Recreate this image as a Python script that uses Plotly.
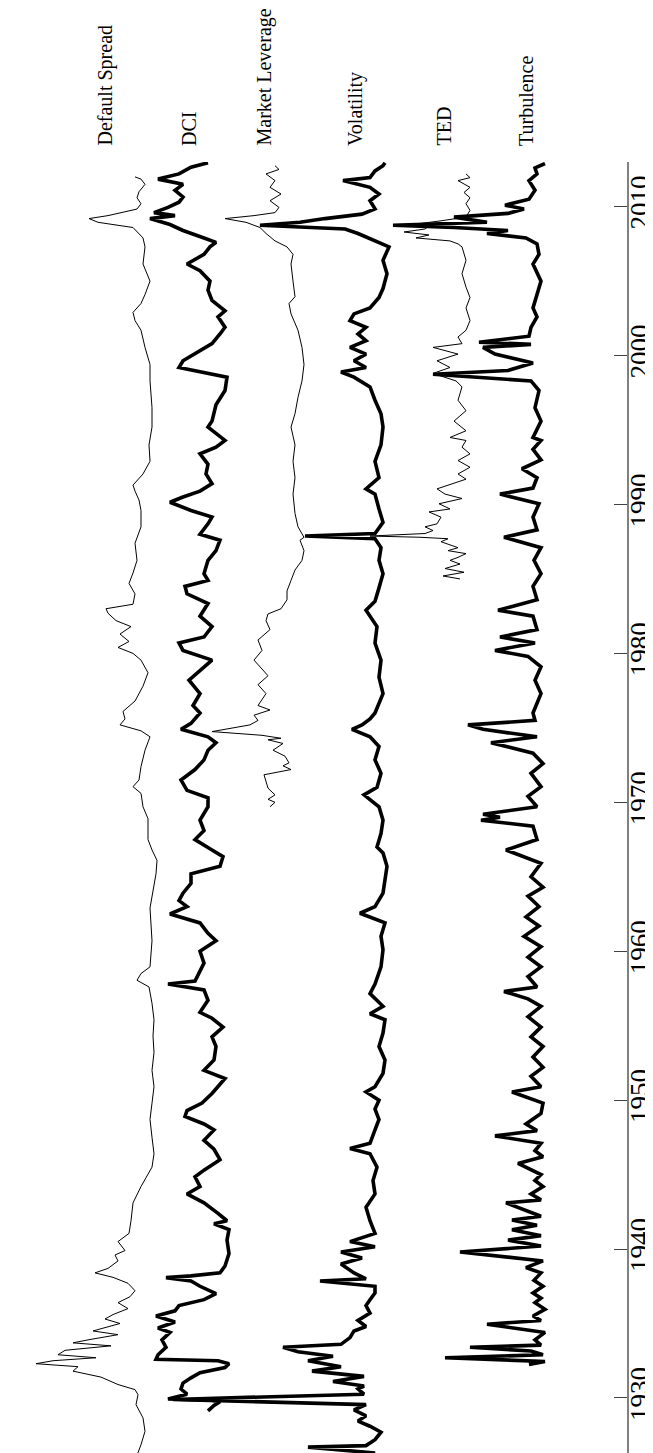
import plotly.graph_objects as go

# ---------------- data (deflection units, larger = further left) -------------
ds_years = [1925.97, 1926.86, 1927.76, 1928.66, 1929.55, 1930.22, 1930.56, 1930.9, 1931.4, 1931.8, 1932.1,
            1932.3, 1932.5, 1932.7, 1932.9, 1933.2, 1933.5, 1933.7, 1933.9, 1934.25, 1934.5, 1934.8, 1935.0,
            1935.3, 1935.6, 1936.0, 1936.4, 1936.8, 1937.2, 1937.7, 1938.1, 1938.4, 1938.7, 1939.2, 1939.6,
            1939.9, 1940.5, 1941.05, 1941.9, 1943.1, 1944.2, 1945.5, 1946.4, 1947.5, 1948.7, 1949.8, 1950.9,
            1952.0, 1953.2, 1954.3, 1955.4, 1956.5, 1957.6, 1958.05, 1958.5, 1958.95, 1960.7, 1962.9, 1964.0,
            1965.2, 1966.1, 1966.8, 1967.5, 1968.9, 1969.7, 1970.6, 1971.05, 1971.5, 1972.4, 1973.5, 1974.4,
            1974.8, 1975.2, 1975.6, 1976.1, 1976.8, 1977.8, 1978.7, 1979.55, 1980.0, 1980.4, 1980.8, 1981.3,
            1981.8, 1982.2, 1982.7, 1983.0, 1983.3, 1984.0, 1984.7, 1985.4, 1986.25, 1987.4, 1988.5, 1989.6,
            1990.3, 1990.9, 1991.3, 1992.05, 1992.9, 1994.0, 1995.2, 1996.5, 1998.3, 1999.4, 2000.55, 2001.7,
            2002.35, 2002.9, 2003.5, 2004.1, 2005.0, 2006.15, 2007.3, 2007.9, 2008.6, 2008.95, 2009.2, 2009.4,
            2009.6, 2009.84, 2010.2, 2010.6, 2011.0, 2011.5, 2011.85, 2012.0]
ds_values = [22, 17, 13, 15, 22, 20, 23, 40, 57, 85, 80,
             122, 105, 62, 100, 93, 47, 85, 70, 40, 65, 50, 38,
             53, 45, 30, 40, 28, 23, 30, 45, 63, 50, 40, 43,
             33, 40, 29, 27, 25, 17, 6, 4, 6, 8, 6, 4,
             6, 4, 5, 4, 6, 9, 21, 17, 8, 6, 8, 5,
             2, 1, 6, 10, 10, 15, 17, 25, 19, 17, 13, 8,
             17, 38, 33, 35, 23, 15, 10, 17, 25, 40, 29, 38,
             27, 42, 50, 52, 25, 23, 29, 25, 21, 23, 17, 17,
             19, 23, 25, 15, 8, 9, 6, 6, 8, 8, 13, 17,
             23, 25, 17, 13, 8, 15, 13, 15, 25, 60, 69, 50,
             38, 21, 17, 21, 19, 13, 17, 23]

dci_years = [1929.13, 1929.5, 1929.75, 1929.85, 1929.93, 1930.25, 1930.6, 1931.0, 1931.35, 1931.7, 1932.04,
             1932.3, 1932.5, 1932.6, 1932.9, 1933.4, 1933.9, 1934.4, 1934.7, 1935.1, 1935.5, 1935.85, 1936.2,
             1936.6, 1937.0, 1937.25, 1937.5, 1937.85, 1938.08, 1938.2, 1938.4, 1938.86, 1939.7, 1940.6, 1941.3,
             1941.7, 1941.9, 1942.4, 1943.1, 1943.7, 1944.2, 1944.85, 1945.3, 1946.0, 1946.7, 1947.3, 1948.0,
             1948.4, 1948.9, 1949.3, 1949.8, 1950.45, 1950.9, 1951.45, 1952.0, 1952.7, 1953.6, 1954.25, 1954.9,
             1955.5, 1955.9, 1956.7, 1957.4, 1957.8, 1958.0, 1959.2, 1960.0, 1960.7, 1961.2, 1961.9, 1962.5,
             1963.0, 1963.4, 1963.9, 1964.55, 1965.2, 1965.7, 1966.35, 1966.8, 1967.5, 1968.1, 1968.8, 1969.7,
             1970.3, 1970.8, 1971.5, 1972.2, 1972.85, 1973.5, 1974.0, 1974.4, 1974.9, 1975.3, 1976.0, 1976.5,
             1977.3, 1978.2, 1979.1, 1979.55, 1980.2, 1980.7, 1981.1, 1981.8, 1982.5, 1983.35, 1984.0, 1984.5,
             1984.9, 1985.35, 1986.25, 1986.9, 1987.6, 1988.0, 1988.7, 1989.15, 1989.6, 1990.15, 1990.5, 1990.9,
             1991.4, 1992.05, 1992.7, 1993.4, 1993.85, 1994.3, 1995.2, 1995.6, 1996.7, 1997.65, 1998.55, 1999.0,
             1999.2, 1999.65, 2000.1, 2000.8, 2001.45, 2001.9, 2002.6, 2003.0, 2003.7, 2004.4, 2005.0, 2005.7,
             2006.15, 2006.8, 2007.3, 2007.6, 2007.9, 2008.4, 2008.8, 2009.2, 2009.4, 2009.6, 2009.95, 2010.3,
             2010.65, 2011.1, 2011.5, 2011.85, 2012.2, 2012.65, 2012.95]
dci_values = [22, 16, 10, 18, 62, 43, 49, 47, 39, 30, 5,
              1, 12, 74, 72, 64, 68, 60, 72, 55, 74, 55, 51,
              26, 14, 22, 30, 39, 64, 39, 10, 5, 1, 3, 1,
              16, 3, 12, 26, 43, 30, 35, 26, 10, 16, 26, 16,
              26, 45, 43, 28, 18, 12, 5, 26, 16, 14, 18, 7,
              18, 30, 22, 26, 62, 35, 26, 30, 14, 22, 30, 60,
              43, 51, 47, 39, 39, 10, 7, 18, 35, 26, 30, 22,
              22, 43, 49, 35, 26, 22, 14, 22, 49, 39, 30, 37,
              30, 41, 26, 18, 47, 51, 26, 18, 30, 22, 43, 45,
              22, 26, 22, 14, 10, 30, 22, 18, 39, 60, 47, 30,
              18, 24, 22, 30, 14, 5, 22, 18, 14, 5, 3, 35,
              51, 47, 35, 18, 10, 5, 12, 5, 18, 22, 20, 30,
              43, 26, 20, 14, 26, 47, 60, 80, 55, 76, 62, 51,
              47, 55, 47, 72, 51, 39, 22]

ml_years = [1969.7, 1970.0, 1970.2, 1970.5, 1970.95, 1971.4, 1971.85, 1972.2, 1972.45, 1972.65, 1973.1,
            1973.5, 1973.95, 1974.2, 1974.3, 1974.5, 1974.75, 1974.95, 1975.2, 1975.5, 1975.85, 1976.2,
            1976.5, 1977.3, 1977.9, 1978.5, 1979.55, 1980.2, 1980.9, 1981.6, 1982.2, 1982.65, 1983.0,
            1983.6, 1984.2, 1984.9, 1985.6, 1986.25, 1986.9, 1987.6, 1987.8, 1988.5, 1989.4, 1990.7,
            1991.8, 1992.9, 1994.0, 1995.2, 1996.1, 1997.2, 1998.3, 1999.4, 2000.55, 2001.7, 2002.8,
            2003.5, 2003.95, 2005.0, 2006.15, 2006.8, 2007.3, 2007.7, 2008.2, 2008.6, 2008.95, 2009.2,
            2009.4, 2009.6, 2009.95, 2010.4, 2010.85, 2011.3, 2011.75, 2012.2, 2012.5, 2012.75]
ml_values = [35, 30, 37, 30, 37, 39, 41, 14, 22, 16, 20,
             32, 22, 37, 24, 43, 93, 76, 55, 47, 51, 35,
             47, 39, 47, 37, 51, 43, 47, 35, 39, 37, 24,
             18, 18, 14, 10, 3, 1, 5, 1, 7, 10, 12,
             10, 12, 10, 14, 10, 7, 3, 1, 3, 7, 14,
             16, 10, 12, 14, 12, 18, 30, 39, 45, 59, 80,
             51, 30, 26, 35, 24, 35, 30, 39, 26, 30]

vol_years = [1926.1, 1926.3, 1926.7, 1926.8, 1927.2, 1927.7, 1928.1, 1928.45, 1928.8, 1929.2, 1929.55,
             1929.9, 1930.25, 1930.6, 1930.8, 1931.1, 1931.45, 1931.8, 1932.1, 1932.5, 1932.8, 1933.1,
             1933.4, 1933.6, 1934.05, 1934.5, 1934.8, 1935.2, 1935.7, 1936.2, 1936.6, 1937.05, 1937.5,
             1937.85, 1938.0, 1938.4, 1939.0, 1939.4, 1939.8, 1940.15, 1940.5, 1941.05, 1941.9, 1942.8,
             1943.7, 1944.6, 1945.5, 1946.4, 1946.75, 1947.1, 1948.0, 1948.7, 1949.4, 1950.0, 1950.55,
             1950.9, 1951.8, 1952.7, 1953.6, 1954.5, 1955.4, 1955.8, 1956.3, 1957.15, 1957.8, 1958.95,
             1960.1, 1961.0, 1961.9, 1962.55, 1963.0, 1963.9, 1964.8, 1965.7, 1966.6, 1967.0, 1967.9,
             1968.8, 1969.7, 1970.5, 1971.0, 1971.95, 1972.85, 1973.75, 1974.4, 1974.9, 1975.2, 1975.6,
             1976.0, 1977.3, 1978.4, 1979.55, 1980.7, 1981.8, 1982.9, 1983.5, 1984.4, 1985.35, 1986.25,
             1987.1, 1987.7, 1987.88, 1988.05, 1988.8, 1989.7, 1990.7, 1991.05, 1991.8, 1992.9, 1994.0,
             1995.2, 1996.1, 1997.0, 1997.9, 1998.55, 1998.9, 1999.2, 1999.65, 2000.1, 2000.55, 2001.0,
             2001.45, 2001.9, 2002.35, 2002.8, 2003.2, 2003.9, 2004.5, 2005.5, 2006.4, 2007.3, 2007.7,
             2008.2, 2008.5, 2008.75, 2008.95, 2009.2, 2009.5, 2009.85, 2010.4, 2010.85, 2011.3, 2011.75,
             2011.95, 2012.4, 2012.75, 2012.95]
vol_values = [24, 15, 82, 24, 15, 9, 20, 32, 24, 36, 24,
              217, 26, 32, 26, 57, 26, 78, 49, 82, 57, 92,
              107, 49, 40, 36, 24, 32, 20, 24, 20, 15, 15,
              70, 24, 36, 49, 28, 49, 15, 40, 15, 20, 24,
              15, 17, 13, 20, 40, 20, 15, 11, 15, 11, 24,
              15, 7, 5, 11, 7, 5, 20, 7, 20, 15, 9,
              7, 9, 5, 30, 15, 7, 5, 3, 7, 13, 9,
              7, 11, 26, 13, 9, 15, 11, 20, 38, 28, 20,
              15, 7, 11, 9, 15, 13, 24, 15, 11, 7, 11,
              9, 15, 85, 15, 7, 11, 15, 24, 11, 15, 9,
              7, 9, 15, 20, 36, 49, 24, 36, 24, 40, 24,
              32, 24, 40, 36, 20, 11, 7, 3, 7, 1, 15,
              32, 45, 130, 90, 65, 28, 15, 20, 11, 20, 47,
              20, 15, 7, 5]

ted_years = [1985.0, 1985.2, 1985.45, 1985.7, 1986.0, 1986.25, 1986.45, 1986.7, 1986.9, 1987.1, 1987.5,
             1987.7, 1987.8, 1987.88, 1988.05, 1988.25, 1988.5, 1988.7, 1989.15, 1989.5, 1989.7, 1990.05,
             1990.4, 1990.7, 1991.05, 1991.4, 1991.7, 1992.05, 1992.5, 1992.95, 1993.4, 1993.85, 1994.3,
             1994.5, 1994.95, 1995.6, 1996.3, 1997.0, 1997.9, 1998.3, 1998.55, 1998.8, 1999.2, 1999.65,
             2000.1, 2000.55, 2000.8, 2001.25, 2001.7, 2002.35, 2003.2, 2003.9, 2004.6, 2005.5, 2006.4,
             2007.3, 2007.5, 2007.7, 2007.9, 2008.1, 2008.3, 2008.5, 2008.7, 2008.85, 2009.05, 2009.3,
             2009.75, 2010.2, 2010.6, 2010.95, 2011.3, 2011.75, 2011.95, 2012.2]
ted_values = [11, 28, 7, 26, 11, 21, 13, 5, 23, 13, 30,
              23, 51, 101, 46, 38, 46, 34, 30, 42, 21, 32,
              9, 26, 34, 17, 5, 13, 1, 13, 1, 9, 5,
              21, 5, 17, 5, 13, 9, 15, 26, 38, 21, 34,
              13, 38, 9, 13, 5, 1, 5, 1, 5, 9, 5,
              9, 13, 21, 55, 42, 67, 46, 42, 53, 30, 5,
              1, 5, 1, 7, 1, 13, 1, 5]

turb_years = [1932.25, 1932.45, 1932.7, 1932.9, 1933.15, 1933.4, 1933.55, 1933.9, 1934.4, 1934.95, 1935.2,
              1935.5, 1935.95, 1936.4, 1936.7, 1937.05, 1937.5, 1937.9, 1938.4, 1938.75, 1939.2, 1939.8,
              1940.2, 1940.6, 1940.9, 1941.3, 1941.6, 1941.95, 1942.2, 1942.6, 1943.1, 1943.3, 1943.7,
              1944.2, 1944.6, 1945.0, 1945.75, 1946.2, 1946.6, 1947.1, 1947.6, 1947.95, 1948.4, 1949.1,
              1949.8, 1950.55, 1950.9, 1951.6, 1952.2, 1952.9, 1953.6, 1954.25, 1954.9, 1955.6, 1956.3,
              1956.8, 1957.3, 1957.6, 1958.3, 1958.95, 1959.6, 1960.3, 1961.0, 1961.7, 1962.3, 1963.0,
              1963.7, 1964.3, 1965.0, 1965.9, 1966.8, 1967.5, 1968.4, 1968.8, 1969.0, 1969.2, 1969.7,
              1970.4, 1971.05, 1971.95, 1972.6, 1973.3, 1974.0, 1974.4, 1974.9, 1975.2, 1975.5, 1976.0,
              1977.3, 1978.2, 1979.1, 1979.8, 1980.2, 1980.7, 1981.1, 1981.6, 1982.5, 1982.9, 1983.6,
              1984.5, 1985.35, 1986.25, 1987.1, 1987.8, 1988.3, 1989.15, 1990.05, 1990.7, 1991.1, 1991.8,
              1992.4, 1993.0, 1993.7, 1994.3, 1994.5, 1995.6, 1996.5, 1997.65, 1998.3, 1998.75, 1999.0,
              1999.5, 2000.1, 2000.55, 2000.75, 2000.9, 2001.3, 2001.9, 2002.6, 2003.2, 2004.2, 2005.0,
              2006.15, 2006.8, 2007.5, 2007.9, 2008.2, 2008.4, 2008.6, 2008.75, 2008.95, 2009.3, 2009.55,
              2009.85, 2010.1, 2010.5, 2011.1, 2011.75, 2012.2, 2012.6, 2012.9]
turb_values = [17, 1, 101, 3, 15, 76, 5, 11, 1, 59, 5,
               13, 1, 11, 5, 13, 3, 12, 5, 20, 3, 86,
               5, 38, 5, 34, 9, 34, 5, 20, 40, 5, 15,
               3, 11, 5, 28, 3, 11, 5, 51, 9, 20, 5,
               3, 34, 5, 15, 3, 13, 3, 15, 5, 18, 5,
               18, 42, 9, 18, 5, 18, 5, 22, 7, 20, 7,
               18, 3, 15, 5, 40, 9, 13, 65, 46, 63, 9,
               18, 5, 15, 3, 13, 55, 9, 63, 78, 11, 13,
               5, 11, 5, 18, 51, 11, 46, 9, 13, 48, 9,
               13, 5, 12, 5, 42, 9, 13, 7, 46, 13, 9,
               24, 5, 13, 5, 13, 5, 11, 7, 15, 113, 38,
               13, 51, 63, 15, 67, 17, 15, 9, 13, 9, 5,
               13, 7, 9, 20, 59, 38, 92, 153, 59, 92, 38,
               22, 41, 17, 11, 17, 9, 11, 1]

series_names = ["Default Spread", "DCI", "Market Leverage", "Volatility", "TED", "Turbulence"]
tick_years = [1930, 1940, 1950, 1960, 1970, 1980, 1990, 2000, 2010]

# ---------------- layout / styling ----------------
series = [
    (ds_years, ds_values, 469, 1.0),
    (dci_years, dci_values, 397, 3.6),
    (ml_years, ml_values, 322, 1.0),
    (vol_years, vol_values, 237, 3.6),
    (ted_years, ted_values, 156, 1.0),
    (turb_years, turb_values, 81, 3.6),
]
label_pos = [522, 438, 363, 271, 183, 101]
YRANGE = [1925.9, 2013.0]

fig = go.Figure()
for (yrs, vals, off, w), name in zip(series, series_names):
    fig.add_trace(go.Scatter(
        x=[off + v for v in vals], y=yrs, mode="lines", name=name,
        line=dict(color="black", width=w, shape="linear"),
        showlegend=False, hoverinfo="skip"))

# empty trace so the label-only axis is drawn
fig.add_trace(go.Scatter(x=[], y=[], yaxis="y2", showlegend=False, hoverinfo="skip"))

for name, xp in zip(series_names, label_pos):
    fig.add_annotation(text=name, x=xp, y=1.0108, xref="x", yref="paper",
                       textangle=-90, showarrow=False, xanchor="center", yanchor="bottom",
                       font=dict(family="Liberation Serif", size=20, color="black"))

fig.update_layout(
    width=653, height=1453,
    margin=dict(l=10, r=34, t=154, b=2),
    paper_bgcolor="white", plot_bgcolor="white",
    font=dict(family="Liberation Serif", color="black"),
    xaxis=dict(range=[609, 0], showgrid=False, zeroline=False, showticklabels=False,
               ticks="", showline=True, linecolor="#808080", linewidth=1.5),
    yaxis=dict(range=YRANGE, side="right", showgrid=False, zeroline=False,
               tickmode="array", tickvals=tick_years, showticklabels=False,
               ticks="inside", ticklen=13, tickcolor="#404040", tickwidth=1,
               showline=True, linecolor="#808080", linewidth=1.5),
    yaxis2=dict(range=YRANGE, overlaying="y", side="right", anchor="free", position=0.990,
                showgrid=False, zeroline=False, showline=False, ticks="",
                tickmode="array", tickvals=tick_years, ticktext=[str(t) for t in tick_years],
                tickangle=-90, tickfont=dict(family="Liberation Serif", size=27, color="black")),
)
fig.write_html("out.html")
